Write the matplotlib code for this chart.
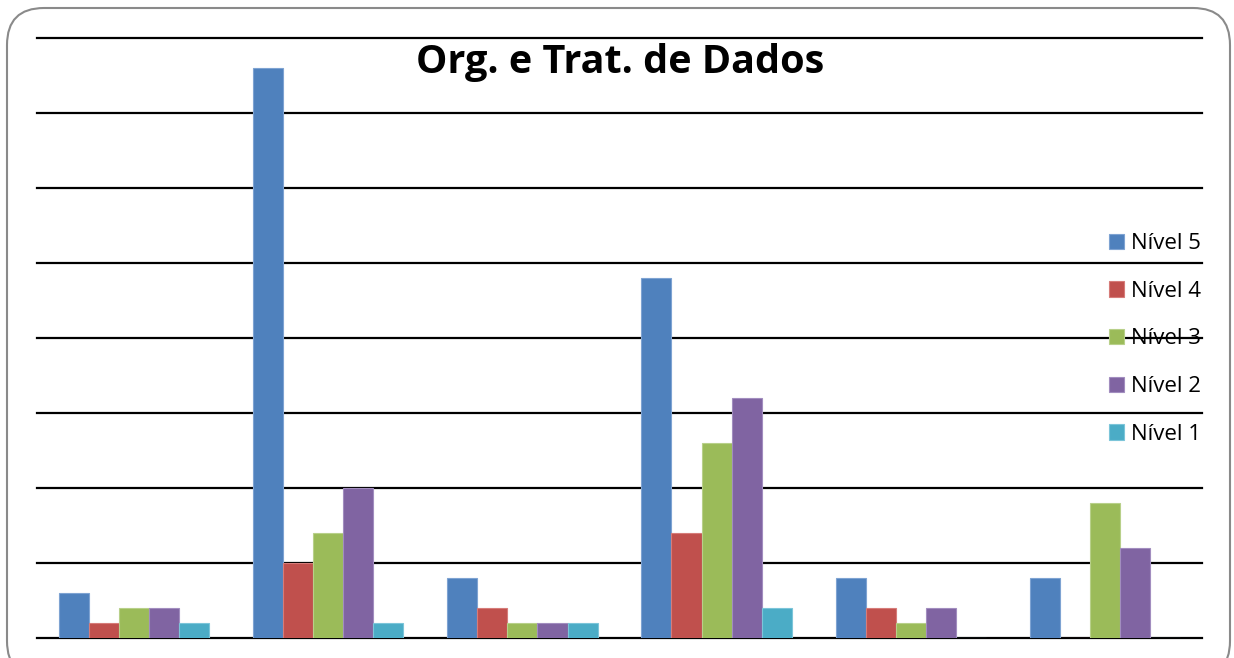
#!/usr/bin/env python3
"""Org. e Trat. de Dados - grouped bar chart by level."""

import matplotlib.pyplot as plt
from matplotlib.patches import FancyBboxPatch

GROUPS = ["1", "2", "3", "4", "5", "6"]
SERIES = ["Nível 5", "Nível 4", "Nível 3", "Nível 2", "Nível 1"]
VALUES = {
    "Nível 5": [3, 38, 4, 24, 4, 4],
    "Nível 4": [1, 5, 2, 7, 2, 0],
    "Nível 3": [2, 7, 1, 13, 1, 9],
    "Nível 2": [2, 10, 1, 16, 2, 6],
    "Nível 1": [1, 1, 1, 2, 0, 0],
}
COLORS = ["#4F81BD", "#C0504D", "#9BBB59", "#8064A2", "#4BACC6"]
EDGES = ["#7EA3D2", "#D67C79", "#B8D08A", "#A28DBF", "#7CC5D9"]


def main() -> None:
    plt.rcParams["font.family"] = ["Open Sans", "DejaVu Sans"]
    fig = plt.figure(figsize=(12.34, 6.58), dpi=100)

    border = FancyBboxPatch(
        (7 / 1234, -20 / 658), 1223 / 1234, 670 / 658,
        boxstyle="round,pad=0,rounding_size=0.03",
        transform=fig.transFigure, facecolor="none",
        edgecolor="#8a8a8a", linewidth=1.5, mutation_aspect=1234 / 658,
        zorder=-1,
    )
    fig.patches.append(border)

    ax = fig.add_axes([37 / 1234, 20 / 658, 1165 / 1234, 600 / 658])
    ax.set_facecolor("none")

    width = 0.155
    x = range(len(GROUPS))
    for k, name in enumerate(SERIES):
        pos = [i + (k - 2) * width for i in x]
        ax.bar(pos, VALUES[name], width, color=COLORS[k], edgecolor=EDGES[k],
               linewidth=0.8, label=name, zorder=3)

    ax.set_xlim(-0.5, len(GROUPS) - 0.5)
    ax.set_ylim(0, 40)
    ax.set_yticks(range(0, 41, 5))
    ax.set_xticks([])
    ax.tick_params(left=False, labelleft=False)
    ax.yaxis.grid(True, color="black", linewidth=1.6)
    for line in ax.get_ygridlines():
        line.set_clip_on(False)
    ax.set_axisbelow(True)
    for s in ax.spines.values():
        s.set_visible(False)

    fig.text(0.5022, 1 - 62 / 658, "Org. e Trat. de Dados", ha="center",
             va="center", fontsize=28.5, fontweight="bold")

    ax.legend(loc="center left", bbox_to_anchor=(1089 / 1234, 1 - 339 / 658),
              bbox_transform=fig.transFigure, frameon=False, fontsize=16,
              handlelength=0.68, handleheight=0.68, handletextpad=0.32,
              labelspacing=1.2)

    fig.savefig("out.png", dpi=100)


if __name__ == "__main__":
    main()
